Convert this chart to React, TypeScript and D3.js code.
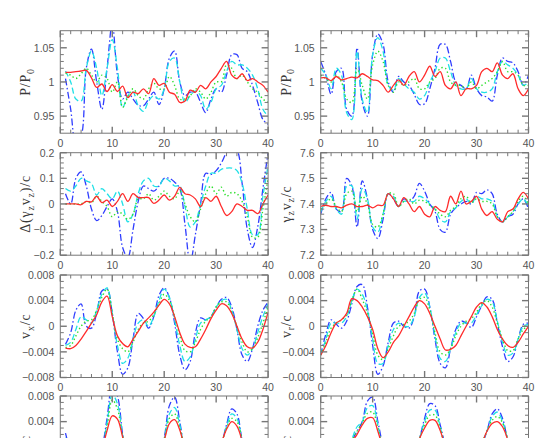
import React from "react";
import * as d3 from "d3";

const W = 558;
const H = 438;

// sample grids (left column starts at t=1, right column at t=0)
const xLeft = d3.range(1, 41);
const xRight = d3.range(0, 41);

// ---- row 1 : P/P0 ----
const tlRed = [1.014,1.014,1.015,1.016,1.017,1.006,0.992,0.997,0.986,0.996,0.986,0.994,0.977,0.985,0.983,0.99,0.983,1.005,0.995,0.998,0.985,0.982,0.97,0.972,0.988,0.985,0.995,0.99,1.0,1.008,1.02,1.03,1.01,1.005,1.012,1.002,1.005,1.0,0.995,0.985];
const tlGreen = [1.013,1.01,1.005,1.012,1.02,1.01,1.0,1.01,1.005,0.985,1.0,0.963,0.978,0.99,0.98,0.975,0.99,0.998,0.99,0.99,1.008,0.995,0.975,0.975,0.98,0.99,0.985,0.975,0.985,1.0,1.0,1.025,1.02,1.005,1.01,1.0,0.99,0.985,0.975,0.97];
const tlCyan = [1.016,1.0,0.975,0.972,1.02,1.045,1.02,0.98,1.02,1.062,1.02,0.962,0.98,0.985,0.965,0.957,0.972,0.98,0.975,0.99,1.03,1.035,1.0,0.97,0.98,0.987,0.98,0.96,0.97,0.99,0.995,1.015,1.03,1.025,1.025,1.02,1.01,0.99,0.96,0.95];
const tlBlue = [1.005,0.96,0.91,0.92,1.02,1.048,1.0,0.96,1.02,1.085,1.01,0.975,0.985,0.975,0.966,0.965,0.975,0.985,0.967,0.99,1.035,1.045,1.0,0.98,0.985,0.985,0.97,0.955,0.975,0.99,0.985,1.01,1.04,1.04,1.02,1.015,0.995,0.97,0.945,0.938];

const trRed = [1.006,1.006,1.002,1.008,1.003,1.005,1.007,1.006,1.012,1.008,1.003,1.002,0.995,0.985,0.995,1.003,0.995,1.008,1.015,1.0,1.01,1.023,1.008,1.015,0.995,0.99,1.0,0.98,0.99,0.99,0.995,1.015,1.02,1.015,1.028,1.01,1.005,1.012,0.99,0.98,0.99];
const trGreen = [1.01,1.005,1.0,1.01,1.0,0.975,0.97,1.02,0.995,0.975,1.025,1.045,1.03,0.995,0.985,1.0,0.995,1.0,1.005,0.99,0.99,1.0,1.005,1.02,1.02,1.0,0.995,0.995,0.99,1.0,0.99,0.995,1.0,1.005,1.015,1.03,1.015,1.015,1.01,0.995,0.995];
const trCyan = [1.02,1.01,0.99,1.02,1.01,0.955,0.945,1.045,0.975,0.955,1.04,1.065,1.045,0.995,0.988,1.005,0.997,0.99,0.985,0.975,0.98,1.0,1.015,1.035,1.035,1.015,0.995,0.99,0.99,1.005,0.99,0.985,0.985,0.99,1.015,1.03,1.025,1.02,1.01,0.995,1.0];
const trBlue = [1.03,1.01,0.982,1.015,1.02,0.96,0.95,1.05,0.97,0.95,1.04,1.07,1.055,1.0,0.985,1.008,1.0,0.995,0.982,0.967,0.968,0.99,1.02,1.055,1.055,1.03,1.0,0.995,0.99,1.01,0.99,0.98,0.978,0.972,1.01,1.035,1.03,1.028,1.015,0.995,1.01];

// ---- row 2 : delta(gamma v) and gamma v ----
const mlRed = [0.0,0.0,0.0,-0.003,0.01,0.008,0.03,0.005,0.015,-0.01,0.01,0.04,0.01,0.04,0.025,0.025,0.025,0.002,0.015,0.035,0.015,0.03,0.065,0.04,0.035,0.02,-0.01,0.025,0.01,0.03,-0.01,-0.045,-0.03,0.0,-0.01,-0.025,-0.025,-0.038,0.0,0.035];
const mlGreen = [0.0,0.0,0.0,0.0,0.01,0.005,0.03,0.01,-0.01,-0.05,-0.03,-0.04,-0.06,-0.04,0.02,0.02,0.04,0.015,0.03,0.05,0.03,0.02,0.05,0.0,-0.05,-0.07,-0.02,0.04,0.07,0.04,0.065,0.03,0.045,0.04,0.01,-0.05,-0.13,-0.13,-0.02,0.1];
const mlCyan = [0.06,0.05,0.07,0.1,0.09,0.08,0.035,0.06,0.04,0.02,0.05,0.0,-0.07,-0.04,0.04,0.09,0.1,0.07,0.07,0.1,0.09,0.07,0.07,-0.01,-0.09,-0.07,0.0,0.07,0.12,0.12,0.135,0.14,0.14,0.13,0.08,-0.02,-0.12,-0.12,0.03,0.15];
const mlBlue = [0.04,0.0,0.1,0.125,0.07,-0.02,-0.065,-0.045,-0.01,0.02,-0.03,-0.17,-0.21,-0.1,0.01,0.07,0.06,0.05,0.07,0.1,0.1,0.085,0.06,-0.08,-0.23,-0.12,0.0,0.12,0.115,0.13,0.16,0.2,0.22,0.21,0.08,-0.1,-0.17,-0.09,0.06,0.2];

const mrRed = [7.39,7.395,7.39,7.39,7.385,7.395,7.4,7.39,7.39,7.395,7.385,7.395,7.395,7.44,7.42,7.39,7.425,7.4,7.37,7.39,7.36,7.35,7.39,7.375,7.37,7.43,7.4,7.45,7.4,7.41,7.43,7.38,7.355,7.37,7.34,7.33,7.37,7.38,7.42,7.445,7.42];
const mrGreen = [7.38,7.4,7.42,7.39,7.37,7.44,7.45,7.37,7.43,7.4,7.32,7.31,7.36,7.44,7.44,7.39,7.41,7.42,7.4,7.415,7.41,7.395,7.38,7.36,7.35,7.375,7.39,7.42,7.43,7.405,7.42,7.41,7.41,7.4,7.35,7.33,7.35,7.37,7.41,7.43,7.4];
const mrCyan = [7.37,7.41,7.43,7.38,7.36,7.47,7.47,7.34,7.46,7.42,7.31,7.29,7.36,7.44,7.43,7.39,7.41,7.41,7.41,7.43,7.42,7.4,7.38,7.34,7.33,7.37,7.385,7.41,7.42,7.4,7.43,7.42,7.42,7.41,7.35,7.33,7.35,7.37,7.4,7.42,7.39];
const mrBlue = [7.36,7.42,7.445,7.38,7.37,7.5,7.47,7.31,7.49,7.42,7.3,7.265,7.34,7.44,7.42,7.39,7.42,7.41,7.43,7.48,7.45,7.4,7.37,7.3,7.29,7.36,7.385,7.4,7.41,7.4,7.445,7.44,7.455,7.44,7.36,7.33,7.35,7.36,7.4,7.42,7.38];

// ---- row 3 : v_x, v_r ----
const blRed = [-0.0034,-0.0035,-0.003,-0.002,-0.0008,0.0005,0.0018,0.0038,0.0047,0.0015,-0.0015,-0.0027,-0.0032,-0.002,-0.0008,0.0005,0.0013,0.0022,0.0033,0.0042,0.0035,0.0015,-0.001,-0.0028,-0.0033,-0.0032,-0.002,-0.0005,0.0012,0.0025,0.0035,0.0032,0.002,0.0,-0.002,-0.0032,-0.0034,-0.0025,-0.0005,0.0022];
const blGreen = [-0.0033,-0.003,-0.0015,0.0,0.0008,0.001,0.0025,0.0045,0.0058,0.002,-0.002,-0.0035,-0.004,-0.0025,-0.0005,0.0005,0.0008,0.0018,0.0035,0.005,0.004,0.0015,-0.0015,-0.0038,-0.004,-0.0025,-0.0005,0.0008,0.0015,0.003,0.0038,0.0038,0.0022,0.0,-0.0025,-0.004,-0.0035,-0.0018,0.0005,0.003];
const blCyan = [-0.003,-0.0025,-0.0005,0.0015,0.001,0.0005,0.0025,0.005,0.006,0.002,-0.003,-0.0058,-0.005,-0.002,0.0005,0.001,0.0,0.0015,0.004,0.0058,0.0045,0.001,-0.003,-0.0055,-0.0048,-0.002,0.0005,0.001,0.0015,0.003,0.004,0.0042,0.0025,-0.0005,-0.0035,-0.0045,-0.0035,-0.001,0.0015,0.0035];
const blBlue = [-0.0028,-0.001,0.0025,0.0035,0.0,-0.0003,0.002,0.0055,0.0058,0.002,-0.004,-0.0075,-0.0065,-0.002,0.002,0.0012,-0.0003,0.0015,0.0048,0.006,0.0045,0.0005,-0.0045,-0.0068,-0.0055,-0.001,0.0013,0.001,0.0015,0.003,0.0042,0.0045,0.003,-0.0005,-0.0045,-0.0055,-0.0035,0.0,0.0025,0.0038];

const brRed = [-0.0045,-0.003,-0.001,0.0005,0.001,0.002,0.0043,0.004,0.003,0.0015,-0.0005,-0.0035,-0.0049,-0.004,-0.0025,-0.0015,0.0,0.0015,0.003,0.004,0.0035,0.002,0.0,-0.002,-0.0037,-0.0036,-0.003,-0.0015,0.0,0.0015,0.003,0.0037,0.003,0.0015,-0.0005,-0.002,-0.003,-0.0033,-0.0025,-0.0012,0.0];
const brGreen = [-0.0045,-0.0025,-0.0003,0.0005,0.001,0.0018,0.004,0.0058,0.0042,0.002,-0.0012,-0.0045,-0.0052,-0.0035,-0.0015,0.0,0.0003,0.0008,0.002,0.0042,0.0045,0.0025,-0.001,-0.004,-0.0045,-0.0035,-0.0015,0.0,0.0008,0.0012,0.0022,0.0035,0.004,0.003,0.0005,-0.002,-0.0038,-0.0038,-0.002,-0.0005,0.0];
const brCyan = [-0.0045,-0.002,0.0005,0.0005,0.0005,0.0015,0.004,0.0058,0.005,0.0025,-0.002,-0.0058,-0.0058,-0.003,-0.0005,0.0005,0.0,0.0,0.0015,0.0045,0.0052,0.003,-0.0015,-0.005,-0.0055,-0.0035,-0.001,0.0005,0.0005,0.0005,0.0018,0.0032,0.0042,0.0038,0.0008,-0.0025,-0.0045,-0.0042,-0.002,0.0,0.0003];
const brBlue = [-0.0045,-0.0012,0.001,0.0003,-0.0003,0.0008,0.0035,0.0062,0.0065,0.003,-0.003,-0.0075,-0.0062,-0.0025,0.0005,0.0008,0.0,-0.0003,0.0015,0.0055,0.0058,0.003,-0.002,-0.0058,-0.0065,-0.0035,-0.0005,0.0008,0.0005,-0.0002,0.0015,0.0032,0.0046,0.0042,0.0005,-0.0032,-0.0055,-0.0048,-0.002,0.0003,0.0005];

// ---- row 4 : v_z (only the top of these panels is on the page) ----
const zlRed = [0.0005,-0.001,-0.0025,-0.0035,-0.0038,-0.0035,-0.0025,-0.0005,0.0026,0.0049,0.0044,0.0016,-0.001,-0.0028,-0.0036,-0.0038,-0.0035,-0.0025,-0.001,0.0011,0.0037,0.0043,0.0027,-0.0003,-0.0025,-0.0035,-0.0038,-0.0035,-0.0025,-0.001,0.0007,0.0028,0.004,0.0033,0.001,-0.0015,-0.003,-0.0037,-0.0035,-0.0025];
const zlGreen = [0.001,-0.001,-0.003,-0.004,-0.0045,-0.004,-0.003,-0.0005,0.0032,0.0074,0.006,0.0017,-0.0015,-0.0035,-0.0042,-0.0045,-0.004,-0.003,-0.001,0.0012,0.0045,0.0052,0.003,-0.0005,-0.003,-0.004,-0.0045,-0.004,-0.003,-0.0012,0.0006,0.003,0.0045,0.004,0.0012,-0.0018,-0.0035,-0.0042,-0.004,-0.003];
const zlCyan = [0.0015,-0.001,-0.0035,-0.0048,-0.005,-0.0045,-0.003,-0.0005,0.0038,0.0082,0.0068,0.0018,-0.002,-0.004,-0.005,-0.005,-0.0045,-0.0032,-0.001,0.0013,0.0052,0.0062,0.0035,-0.0008,-0.0035,-0.0048,-0.005,-0.0045,-0.0032,-0.0012,0.0006,0.0032,0.0052,0.0045,0.001,-0.002,-0.004,-0.0048,-0.0045,-0.0032];
const zlBlue = [0.0022,-0.001,-0.004,-0.0055,-0.0058,-0.005,-0.0035,-0.0005,0.0045,0.0095,0.008,0.002,-0.0025,-0.0048,-0.0058,-0.0058,-0.005,-0.0035,-0.001,0.0015,0.0065,0.0078,0.004,-0.001,-0.0042,-0.0055,-0.0058,-0.005,-0.0035,-0.0012,0.0005,0.0035,0.006,0.0052,0.001,-0.0025,-0.0045,-0.0055,-0.005,-0.0035];

const zrRed = [-0.003,-0.0038,-0.004,-0.0035,-0.0025,-0.001,0.0008,0.002,0.0035,0.0045,0.0046,0.0025,-0.0002,-0.0025,-0.0037,-0.004,-0.0038,-0.003,-0.0015,0.0013,0.003,0.0042,0.0042,0.0026,0.0,-0.0025,-0.0037,-0.004,-0.0037,-0.0028,-0.0012,0.0005,0.0025,0.0037,0.004,0.0032,0.0012,-0.0012,-0.003,-0.0038,-0.0038];
const zrGreen = [-0.0035,-0.0045,-0.0048,-0.0042,-0.003,-0.0012,0.001,0.0025,0.0038,0.0053,0.0055,0.003,-0.0005,-0.003,-0.0045,-0.0048,-0.0045,-0.0035,-0.0018,0.0012,0.0035,0.005,0.005,0.003,-0.0002,-0.003,-0.0045,-0.0048,-0.0045,-0.0033,-0.0015,0.0005,0.0025,0.0042,0.0048,0.0038,0.0012,-0.0015,-0.0035,-0.0045,-0.0045];
const zrCyan = [-0.004,-0.005,-0.0052,-0.0045,-0.0032,-0.0012,0.0012,0.0032,0.004,0.0062,0.0065,0.0035,-0.0008,-0.0035,-0.005,-0.0052,-0.0048,-0.0038,-0.002,0.0012,0.004,0.0058,0.0058,0.0032,-0.0005,-0.0035,-0.005,-0.0052,-0.0048,-0.0035,-0.0015,0.0005,0.0025,0.0048,0.0055,0.004,0.0012,-0.0018,-0.004,-0.005,-0.005];
const zrBlue = [-0.0045,-0.0058,-0.006,-0.005,-0.0035,-0.0012,0.001,0.0025,0.004,0.0072,0.0078,0.004,0.0,-0.004,-0.0058,-0.006,-0.0055,-0.0042,-0.002,0.0012,0.0045,0.0068,0.0065,0.0035,0.0,-0.004,-0.0058,-0.006,-0.0055,-0.004,-0.0018,0.0003,0.0025,0.0052,0.006,0.0045,0.001,-0.002,-0.0045,-0.0058,-0.0058];

// axis ticks
const xMajor = [0, 10, 20, 30, 40];
const xMinorStep = 2;
const pMajor = [0.95, 1, 1.05];
const pLabels = ["0.95", "1", "1.05"];
const dMajor = [-0.2, -0.1, 0, 0.1, 0.2];
const dLabels = ["\u22120.2", "\u22120.1", "0", "0.1", "0.2"];
const gMajor = [7.2, 7.3, 7.4, 7.5, 7.6];
const gLabels = ["7.2", "7.3", "7.4", "7.5", "7.6"];
const vMajor = [-0.008, -0.004, 0, 0.004, 0.008];
const vLabels = ["\u22120.008", "\u22120.004", "0", "0.004", "0.008"];

// red solid, green dotted, cyan dashed, blue dot-dashed
const lineStyles = [
  { color: "#ff2b2b", dash: "none", w: 1.3 },
  { color: "#2ee02e", dash: "1.4,2.6", w: 1.4 },
  { color: "#1ee0e6", dash: "6,3", w: 1.3 },
  { color: "#2f3dff", dash: "7,2.5,1.5,2.5", w: 1.3 },
];

type Seg = { t: string; sub?: boolean };

const panels = [
  { col: 0, row: 0, domain: [0.925, 1.075], major: pMajor, labels: pLabels, minor: 0.01, xs: xLeft,
    series: [tlRed, tlGreen, tlCyan, tlBlue], ylab: [{ t: "P/P" }, { t: "0", sub: true }] as Seg[] },
  { col: 1, row: 0, domain: [0.925, 1.075], major: pMajor, labels: pLabels, minor: 0.01, xs: xRight,
    series: [trRed, trGreen, trCyan, trBlue], ylab: [{ t: "P/P" }, { t: "0", sub: true }] as Seg[] },
  { col: 0, row: 1, domain: [-0.2, 0.2], major: dMajor, labels: dLabels, minor: 0.02, xs: xLeft,
    series: [mlRed, mlGreen, mlCyan, mlBlue],
    ylab: [{ t: "\u0394(\u03b3" }, { t: "z", sub: true }, { t: "v" }, { t: "z", sub: true }, { t: ")/c" }] as Seg[] },
  { col: 1, row: 1, domain: [7.2, 7.6], major: gMajor, labels: gLabels, minor: 0.02, xs: xRight,
    series: [mrRed, mrGreen, mrCyan, mrBlue],
    ylab: [{ t: "\u03b3" }, { t: "z", sub: true }, { t: "v" }, { t: "z", sub: true }, { t: "/c" }] as Seg[] },
  { col: 0, row: 2, domain: [-0.008, 0.008], major: vMajor, labels: vLabels, minor: 0.001, xs: xLeft,
    series: [blRed, blGreen, blCyan, blBlue], ylab: [{ t: "v" }, { t: "x", sub: true }, { t: "/c" }] as Seg[] },
  { col: 1, row: 2, domain: [-0.008, 0.008], major: vMajor, labels: vLabels, minor: 0.001, xs: xRight,
    series: [brRed, brGreen, brCyan, brBlue], ylab: [{ t: "v" }, { t: "r", sub: true }, { t: "/c" }] as Seg[] },
  { col: 0, row: 3, domain: [-0.008, 0.008], major: vMajor, labels: vLabels, minor: 0.001, xs: xLeft,
    series: [zlRed, zlGreen, zlCyan, zlBlue], ylab: [{ t: "v" }, { t: "z", sub: true }, { t: "/c" }] as Seg[] },
  { col: 1, row: 3, domain: [-0.008, 0.008], major: vMajor, labels: vLabels, minor: 0.001, xs: xRight,
    series: [zrRed, zrGreen, zrCyan, zrBlue], ylab: [{ t: "v" }, { t: "z", sub: true }, { t: "/c" }] as Seg[] },
];

const colLeft = [60.3, 320.7];
const panelW = 207.8;
const rowTop = [30.7, 152.7, 275, 396];
const panelH = 102.5;

const axisColor = "#777";
const textColor = "#555";
const tickFont = "'Liberation Sans', Arial, sans-serif";
const labelFont = "'Liberation Serif', 'DejaVu Serif', serif";

function YLabel({ x, y, segs }: { x: number; y: number; segs: Seg[] }) {
  let shift = 0;
  return (
    <text transform={`translate(${x},${y}) rotate(-90)`} textAnchor="middle"
      fontFamily={labelFont} fontSize={14} fill="#3a3a3a" letterSpacing={0.8}>
      {segs.map((s, i) => {
        const target = s.sub ? 3.5 : 0;
        const dy = target - shift;
        shift = target;
        return (
          <tspan key={i} dy={dy} fontSize={s.sub ? 10 : 14}>{s.t}</tspan>
        );
      })}
    </text>
  );
}

function Panel({ p, idx }: { p: (typeof panels)[number]; idx: number }) {
  const x0 = colLeft[p.col];
  const y0 = rowTop[p.row];
  const x = d3.scaleLinear().domain([0, 40]).range([x0, x0 + panelW]);
  const y = d3.scaleLinear().domain(p.domain).range([y0 + panelH, y0]);
  const line = d3
    .line<number>()
    .x((d, i) => x(p.xs[i]))
    .y((d) => y(d))
    .curve(d3.curveCatmullRom.alpha(0.5));

  const xMinor = d3.range(0, 40.001, xMinorStep).filter((v) => !xMajor.includes(v));
  const [lo, hi] = p.domain;
  const yMinor = d3
    .range(Math.ceil(lo / p.minor - 1e-6), Math.floor(hi / p.minor + 1e-6) + 1)
    .map((k) => k * p.minor)
    .filter((v) => !p.major.some((m) => Math.abs(m - v) < p.minor / 10));

  const bottom = y0 + panelH;
  const right = x0 + panelW;
  const majLen = 6.5;
  const minLen = 3.5;
  const clipId = "clip" + idx;
  const order = [3, 2, 1, 0];
  // texts that would fall below the page are not drawn
  const onPage = (yy: number) => yy < H - 2;

  return (
    <g>
      <defs>
        <clipPath id={clipId}>
          <rect x={x0} y={y0} width={panelW} height={panelH} />
        </clipPath>
      </defs>
      <g clipPath={`url(#${clipId})`}>
        {order.map((k) => (
          <path key={k} d={line(p.series[k]) || ""} fill="none"
            stroke={lineStyles[k].color} strokeWidth={lineStyles[k].w}
            strokeDasharray={lineStyles[k].dash} />
        ))}
      </g>
      <rect x={x0} y={y0} width={panelW} height={panelH} fill="none" stroke={axisColor} strokeWidth={1} />
      <g stroke={axisColor} strokeWidth={1}>
        {xMinor.map((v) => (
          <g key={"xm" + v}>
            <line x1={x(v)} x2={x(v)} y1={bottom} y2={bottom - minLen} />
            <line x1={x(v)} x2={x(v)} y1={y0} y2={y0 + minLen} />
          </g>
        ))}
        {xMajor.map((v) => (
          <g key={"xM" + v}>
            <line x1={x(v)} x2={x(v)} y1={bottom} y2={bottom - majLen} strokeWidth={1.4} />
            <line x1={x(v)} x2={x(v)} y1={y0} y2={y0 + majLen} strokeWidth={1.4} />
          </g>
        ))}
        {yMinor.map((v) => (
          <g key={"ym" + v}>
            <line x1={x0} x2={x0 + minLen} y1={y(v)} y2={y(v)} />
            <line x1={right} x2={right - minLen} y1={y(v)} y2={y(v)} />
          </g>
        ))}
        {p.major.map((v) => (
          <g key={"yM" + v}>
            <line x1={x0} x2={x0 + majLen} y1={y(v)} y2={y(v)} strokeWidth={1.4} />
            <line x1={right} x2={right - majLen} y1={y(v)} y2={y(v)} strokeWidth={1.4} />
          </g>
        ))}
      </g>
      <g fontFamily={tickFont} fontSize={10.5} fill={textColor}>
        {onPage(bottom + 13.5) &&
          xMajor.map((v) => (
            <text key={"xl" + v} x={x(v)} y={bottom + 13.5} textAnchor="middle">{v}</text>
          ))}
        {p.major.map((v, i) =>
          onPage(y(v) + 3.8) ? (
            <text key={"yl" + v} x={x0 - 6} y={y(v) + 3.8} textAnchor="end">{p.labels[i]}</text>
          ) : null
        )}
      </g>
      <YLabel x={x0 - 30} y={y0 + panelH / 2} segs={p.ylab} />
    </g>
  );
}

export default function App() {
  return (
    <svg width={W} height={H} style={{ position: "absolute", left: 0, top: 0, background: "#fff" }}>
      <rect width={W} height={H} fill="#fff" />
      {panels.map((p, i) => (
        <Panel key={i} p={p} idx={i} />
      ))}
    </svg>
  );
}
